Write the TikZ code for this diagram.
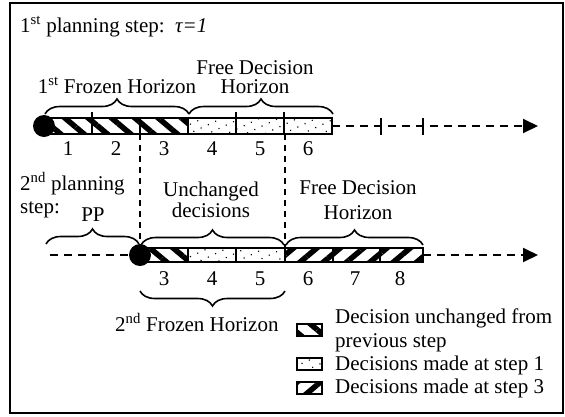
\documentclass[tikz,border=0pt]{standalone}
\usepackage{fontspec}
\setmainfont{Liberation Serif}
\usetikzlibrary{patterns.meta,decorations.pathreplacing,arrows.meta}
\begin{document}
\begin{tikzpicture}[x=1pt,y=-1pt,
  txt/.style={font=\fontsize{21}{24}\selectfont, inner sep=0pt, anchor=base},
  ltxt/.style={txt, anchor=base west},
  frozenpat/.style={pattern={Lines[angle=-40,distance=15pt,line width=5.5pt]}},
  freepat/.style={pattern={Dots[radius=0.8pt,distance=8pt,angle=25]}},
  newpat/.style={pattern={Lines[angle=40,distance=15pt,line width=5.5pt]}},
  cellline/.style={line width=1.2pt},
  barline/.style={line width=2pt},
  tickline/.style={line width=1.3pt},
  dashline/.style={line width=2pt, dash pattern=on 8pt off 6pt},
  vdash/.style={line width=1.4pt, dash pattern=on 6pt off 5pt},
  bracestyle/.style={decorate, decoration={brace, amplitude=15pt}, line width=1.6pt},
  dotnode/.style={circle, fill=black, minimum size=22pt, inner sep=0pt},
  legbox/.style={draw, line width=1.2pt, minimum width=25pt, minimum height=12pt, inner sep=0pt},
  tip/.style={-{Triangle[length=15pt,width=14pt]}}
]
\useasboundingbox (0,0) rectangle (565,416);
\draw[line width=1.5pt] (10,3) rectangle (563,413);

% ---------- step 1 ----------
\node[ltxt] (title1) at (20,32) {1\textsuperscript{st} planning step:\ \ {\itshape τ=1}};
\node[txt] (fdh1a) at (255,74) {Free Decision};
\node[txt] (fdh1b) at (255,93) {Horizon};
\node[txt] (fh1) at (117,93) {1\textsuperscript{st} Frozen Horizon};

\foreach \a/\b/\p in {44/92/frozenpat, 92/140/frozenpat, 140/188/frozenpat, 188/236/freepat, 236/284/freepat, 284/332/freepat}
  \draw[cellline,\p] (\a,118) rectangle (\b,134);
\draw[barline] (44,118) rectangle (332,134);
\draw[barline] (188,118) -- (188,134);
\foreach \x in {92,236,284} \draw[tickline] (\x,112) -- (\x,134);

\coordinate (e1) at (332,126);
\coordinate (t1) at (538,126);
\draw[dashline,tip] (e1) -- (t1);
\foreach \x in {381,423} \draw[tickline] (\x,118) -- (\x,135);
\node[dotnode] (c1) at (44,126) {};

\draw[bracestyle] (45,114) -- (189,114);
\draw[bracestyle] (189,114) -- (333,114);

\foreach \n/\x in {1/68,2/116,3/164,4/212,5/260,6/308}
  \node[txt] (n1\n) at (\x,155) {\n};

% vertical dashed links
\coordinate (v1a) at (140,134);
\coordinate (v1b) at (140,244);
\coordinate (v2a) at (285,134);
\coordinate (v2b) at (285,248);
\draw[vdash] (v1a) -- (v1b);
\draw[vdash] (v2a) -- (v2b);

% ---------- step 2 ----------
\node[ltxt] (title2a) at (20,190) {2\textsuperscript{nd} planning};
\node[ltxt] (title2b) at (20,213) {step:};
\node[txt] (pp) at (93,221) {PP};
\node[txt] (unch1) at (211,196) {Unchanged};
\node[txt] (unch2) at (211,217) {decisions};
\node[txt] (fdh2a) at (358,194) {Free Decision};
\node[txt] (fdh2b) at (358,219) {Horizon};

\coordinate (s2) at (50,255);
\coordinate (e2) at (423,255);
\coordinate (t2) at (538,255);
\draw[dashline] (s2) -- (140,255);
\foreach \a/\b/\p in {140/188/frozenpat, 188/236/freepat, 236/285/freepat, 285/333/newpat, 333/380/newpat, 380/423/newpat}
  \draw[cellline,\p] (\a,248) rectangle (\b,262);
\draw[barline] (140,248) rectangle (423,262);
\draw[barline] (285,246) -- (285,262);
\draw[dashline,tip] (e2) -- (t2);
\node[dotnode] (c2) at (140,255) {};

\draw[bracestyle] (46,244) -- (139,244);
\draw[bracestyle] (141,245) -- (284,245);
\draw[bracestyle] (286,245) -- (423,245);
\draw[bracestyle] (285,291) -- (140,291);

\foreach \n/\x in {3/164,4/212,5/260,6/308,7/355,8/400}
  \node[txt] (n2\n) at (\x,285) {\n};

\node[ltxt] (fh2) at (115,331) {2\textsuperscript{nd} Frozen Horizon};

% ---------- legend ----------
\node[legbox,frozenpat] (lb1) at (309.5,330) {};
\node[legbox,freepat] (lb2) at (309.5,364) {};
\node[legbox,newpat] (lb3) at (309.5,388) {};
\node[ltxt] (lt1a) at (335,323) {Decision unchanged from};
\node[ltxt] (lt1b) at (335,347) {previous step};
\node[ltxt] (lt2) at (335,370) {Decisions made at step 1};
\node[ltxt] (lt3) at (335,393) {Decisions made at step 3};
\end{tikzpicture}
\end{document}
